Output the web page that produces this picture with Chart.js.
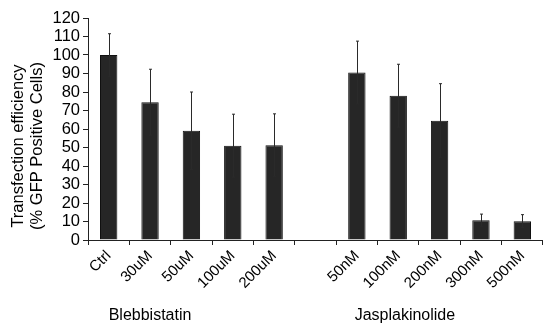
<!DOCTYPE html>
<html>
<head>
<meta charset="utf-8">
<script src="https://cdn.jsdelivr.net/npm/chart.js@4"></script>
<style>
  html, body { margin: 0; padding: 0; background: #fff; }
  #wrap { width: 543px; height: 325px; }
</style>
</head>
<body>
<div id="wrap"><canvas id="graph"></canvas></div>
<script>
// categories (empty slot separates the two drugs)
var labels = ["Ctrl", "30uM", "50uM", "100uM", "200uM", "", "50nM", "100nM", "200nM", "300nM", "500nM"];
var efficiency = [100, 74.5, 59, 51, 51.2, null, 90.5, 78, 64.5, 10.7, 10.2];
var errors = [11.5, 17.8, 21, 17, 17, null, 17, 17, 20, 3.3, 3.5];
var yTicks = [0, 10, 20, 30, 40, 50, 60, 70, 80, 90, 100, 110, 120];
var groups = ["Blebbistatin", "Jasplakinolide"];

var FONT = "'Liberation Sans', Arial, sans-serif";

// error bars + group names + y title
var extras = {
    id: 'extras',
    afterDatasetsDraw: function (chart) {
        var ctx = chart.ctx;
        var x = chart.scales.x;
        var y = chart.scales.y;
        ctx.save();
        ctx.strokeStyle = "#2a2a2a";
        ctx.lineWidth = 1;
        for (var i = 0; i < efficiency.length; i++) {
            if (efficiency[i] == null) continue;
            var px = Math.round(x.getPixelForValue(i)) + 0.5;
            var top = y.getPixelForValue(efficiency[i] + errors[i]);
            var bot = y.getPixelForValue(efficiency[i] - errors[i]);
            ctx.beginPath();
            ctx.moveTo(px, top);
            ctx.lineTo(px, bot);
            ctx.moveTo(px - 1.5, top);
            ctx.lineTo(px + 1.5, top);
            ctx.moveTo(px - 1.5, bot);
            ctx.lineTo(px + 1.5, bot);
            ctx.stroke();
        }
        ctx.restore();
    },
    afterDraw: function (chart) {
        var ctx = chart.ctx;
        var x = chart.scales.x;
        ctx.save();
        ctx.fillStyle = "#000";
        ctx.font = "16px " + FONT;
        ctx.textAlign = "center";
        ctx.textBaseline = "middle";
        ctx.fillText(groups[0], x.getPixelForValue(1), 316);
        ctx.fillText(groups[1], (x.getPixelForValue(7) + x.getPixelForValue(8)) / 2 - 14, 316);

        ctx.translate(28, 146);
        ctx.rotate(-Math.PI / 2);
        ctx.font = "16.5px " + FONT;
        ctx.fillText("Transfection efficiency", 0, -10);
        ctx.fillText("(% GFP Positive Cells)", 0, 9);
        ctx.restore();
    }
};

var ctx = document.getElementById("graph").getContext('2d');
var myChart = new Chart(ctx, {
    type: 'bar',
    data: {
        labels: labels,
        datasets: [{
            data: efficiency,
            backgroundColor: "#262626",
            borderColor: "#111",
            borderWidth: 1,
            barPercentage: 0.42,
            categoryPercentage: 1
        }]
    },
    options: {
        responsive: true,
        maintainAspectRatio: false,
        animation: false,
        layout: { padding: { top: 18, right: 0, left: 0, bottom: 0 } },
        plugins: { legend: { display: false }, tooltip: { enabled: false } },
        scales: {
            x: {
                offset: true,
                grid: {
                    offset: true,
                    drawOnChartArea: false,
                    drawTicks: true,
                    tickLength: 5,
                    color: "#222"
                },
                border: { color: "#222", width: 1 },
                ticks: {
                    color: "#000",
                    font: { family: FONT, size: 15 },
                    minRotation: 45,
                    maxRotation: 45,
                    autoSkip: false,
                    padding: 2
                },
                afterFit: function (scale) { scale.height = 85; }
            },
            y: {
                min: 0,
                max: 120,
                afterBuildTicks: function (scale) {
                    scale.ticks = yTicks.map(function (v) { return { value: v }; });
                },
                grid: {
                    drawOnChartArea: false,
                    drawTicks: true,
                    tickLength: 5,
                    color: "#222"
                },
                border: { color: "#222", width: 1 },
                ticks: {
                    color: "#000",
                    font: { family: FONT, size: 16.5 },
                    autoSkip: false,
                    padding: 3
                },
                afterFit: function (scale) { scale.width = 88; }
            }
        }
    },
    plugins: [extras]
});
</script>
</body>
</html>
